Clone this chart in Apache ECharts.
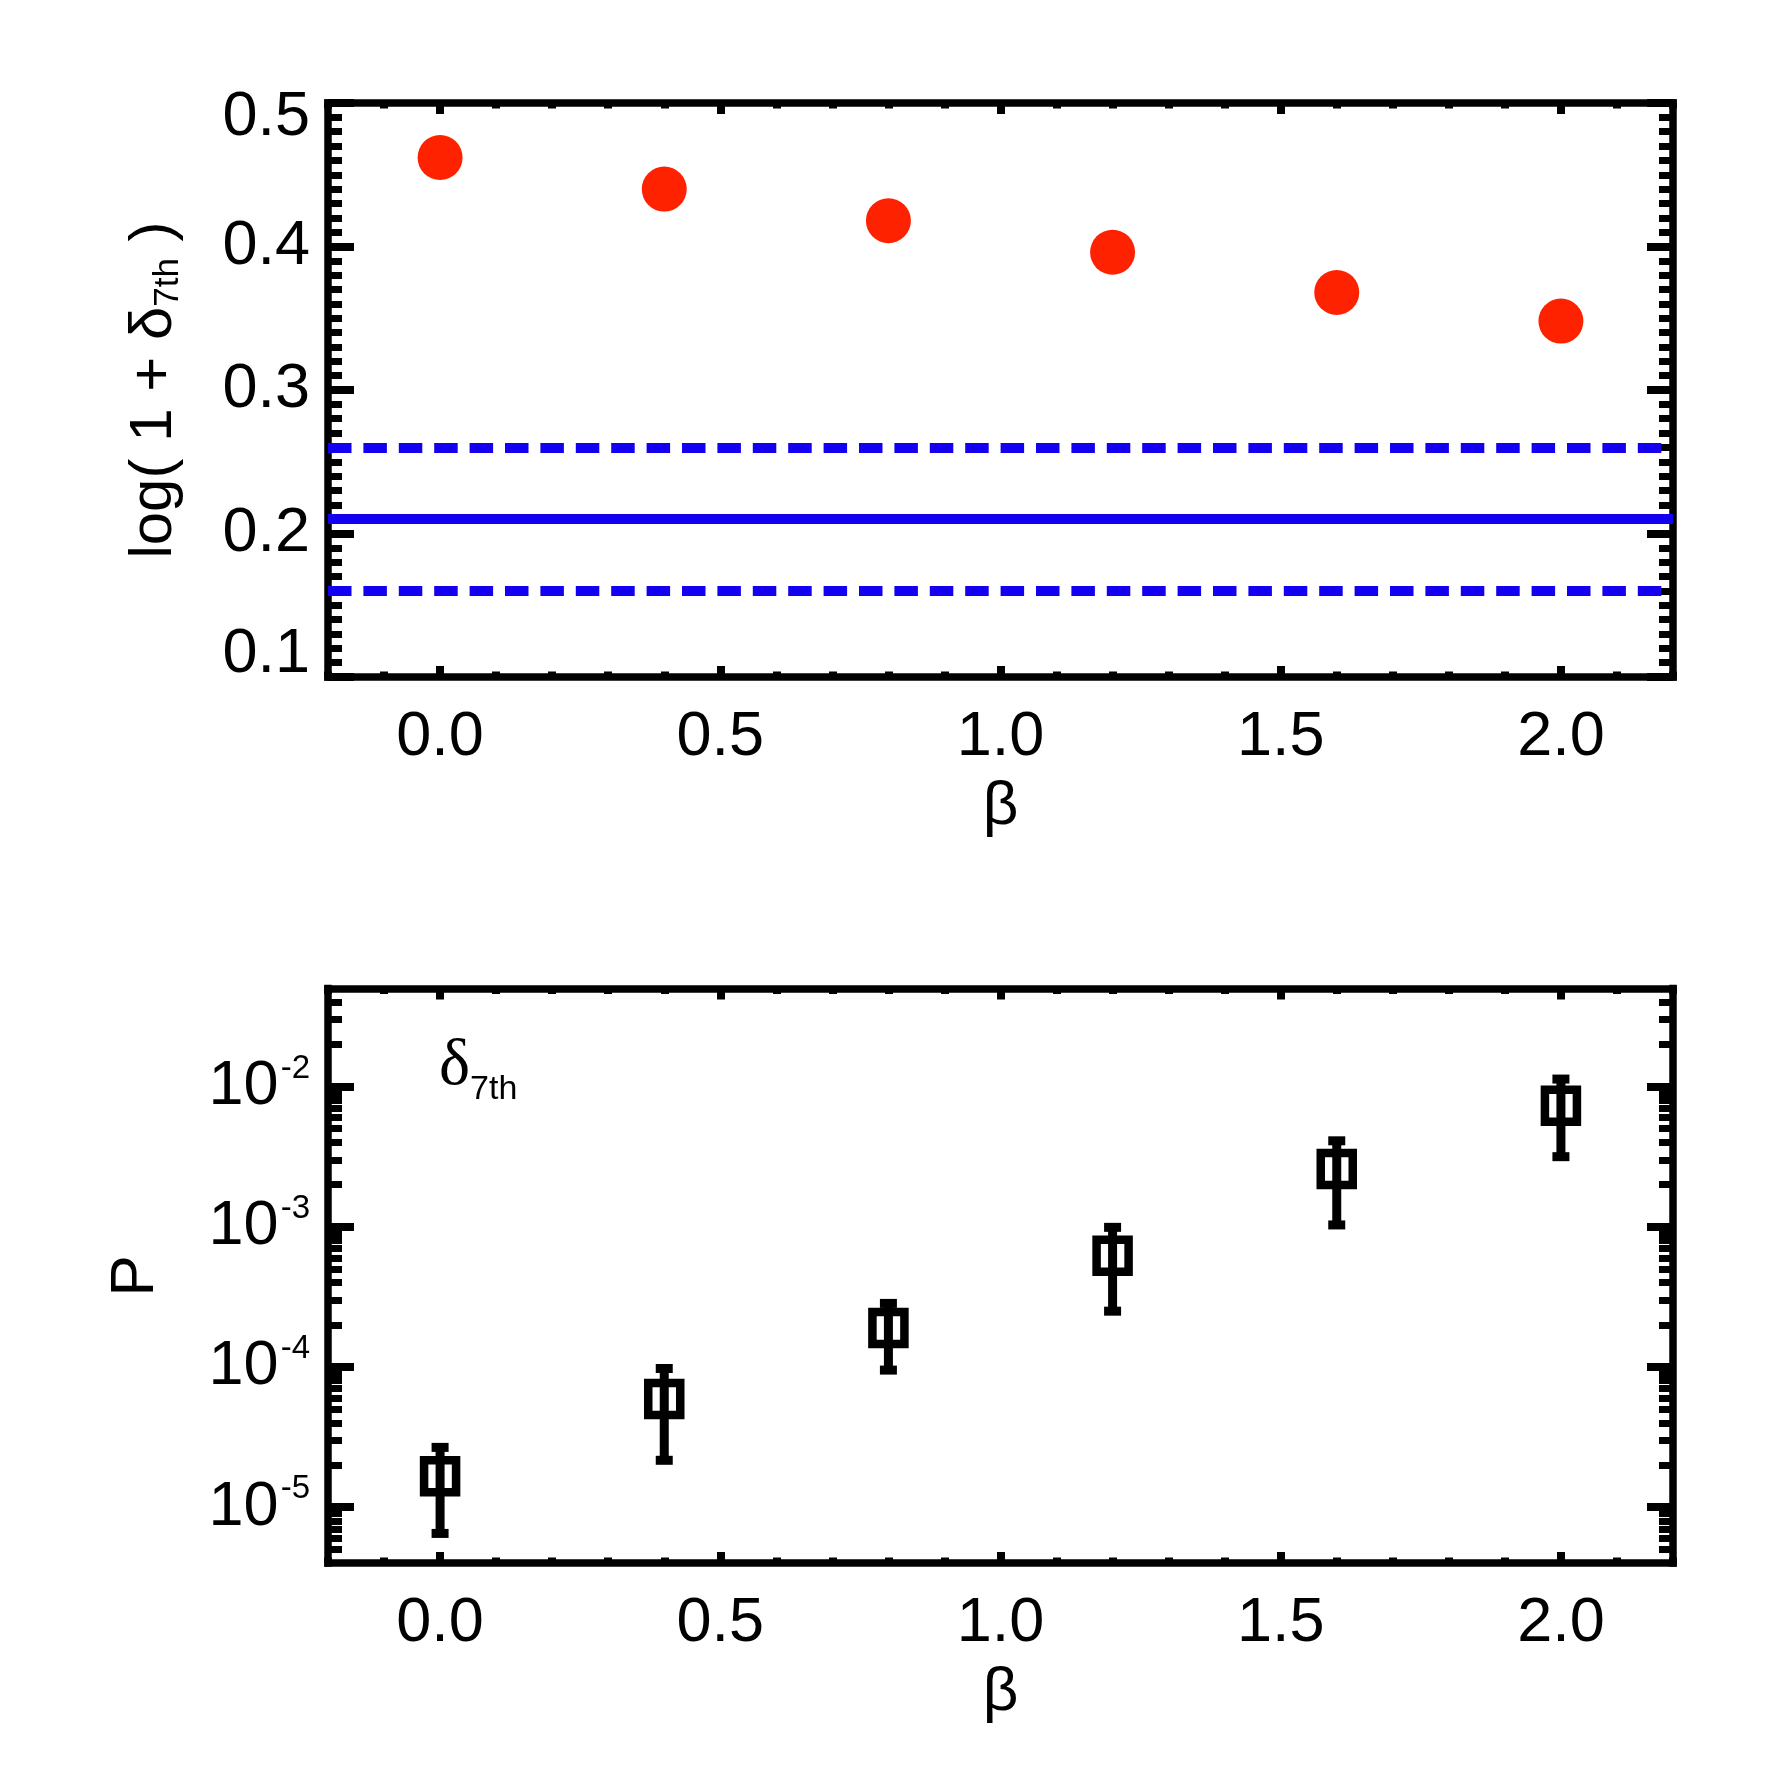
<!DOCTYPE html>
<html><head><meta charset="utf-8">
<script src="https://cdn.jsdelivr.net/npm/echarts@6/dist/echarts.min.js"></script>
<style>html,body{margin:0;padding:0;background:#fff}#c{width:1771px;height:1771px}</style>
</head><body><div id="c"></div>
<script>
// ---- data ----
const betaValues = [0.0, 0.4, 0.8, 1.2, 1.6, 2.0];
const logDelta = [0.462, 0.440, 0.418, 0.396, 0.368, 0.348];
const refMean = 0.2065;
const refUpper = 0.2575;
const refLower = 0.158;
const probValues = [1.66e-5, 5.9e-5, 1.9e-4, 6.2e-4, 2.58e-3, 7.3e-3];
const probUpper = [2.67e-5, 9.75e-5, 2.84e-4, 9.9e-4, 4.1e-3, 1.13e-2];
const probLower = [6.5e-6, 2.16e-5, 9.5e-5, 2.5e-4, 1.03e-3, 3.16e-3];
const xTickLabels = [0.0, 0.5, 1.0, 1.5, 2.0];
const topYTicks = [0.1, 0.2, 0.3, 0.4, 0.5];
const logTicks = [1e-5, 1e-4, 1e-3, 1e-2];
const logMinorMultipliers = [2, 3, 4, 5, 6, 7, 8, 9];
const logDecades = [1e-6, 1e-5, 1e-4, 1e-3, 1e-2];

const FONT = "'Liberation Sans', Arial, Helvetica, sans-serif";
const SERIF = "'Liberation Serif', 'Times New Roman', serif";
const BLACK = '#000';
const BLUE = '#1400f0';
const RED = '#ff2200';
const X_MIN = -0.2, X_MAX = 2.2;
const LOG_MIN = 4e-6, LOG_MAX = 0.05;
const LABEL_SIZE = 63;

const logMinorTicks = [];
logDecades.forEach(d => logMinorMultipliers.forEach(m => {
  const v = d * m;
  if (v > LOG_MIN && v < LOG_MAX) logMinorTicks.push(v);
}));

const axisLineStyle = {color: BLACK, width: 7.5, cap: 'square'};

function xMajor(gridIndex, position, withLabel) {
  return {
    type: 'value', gridIndex, position, min: X_MIN, max: X_MAX,
    axisLine: {show: true, onZero: false, lineStyle: axisLineStyle},
    axisTick: {show: true, inside: true, length: 11, customValues: xTickLabels, lineStyle: {color: BLACK, width: 8}},
    axisLabel: {show: withLabel, customValues: xTickLabels, formatter: v => v.toFixed(1),
      margin: 29, color: BLACK, fontSize: LABEL_SIZE, fontFamily: FONT},
    splitLine: {show: false}, minorTick: {show: false},
    name: withLabel ? 'β' : '', nameLocation: 'middle', nameGap: 99,
    nameTextStyle: {color: BLACK, fontSize: 62, fontFamily: FONT}
  };
}
function xMinor(gridIndex, position) {
  return {
    type: 'value', gridIndex, position, min: X_MIN, max: X_MAX, interval: 0.1,
    axisLine: {show: false, onZero: false},
    axisTick: {show: true, inside: true, length: 5.5, lineStyle: {color: BLACK, width: 8}},
    axisLabel: {show: false}, splitLine: {show: false}
  };
}
function yTop(position, withLabel) {
  return {
    type: 'value', gridIndex: 0, position, min: 0.1, max: 0.5, interval: 0.1,
    axisLine: {show: true, onZero: false, lineStyle: axisLineStyle},
    axisTick: {show: true, inside: true, length: 26, lineStyle: {color: BLACK, width: 8}},
    minorTick: {show: true, splitNumber: 10, length: 14, lineStyle: {color: BLACK, width: 7}},
    splitLine: {show: false}, minorSplitLine: {show: false},
    axisLabel: {
      show: withLabel, margin: 18, color: BLACK, fontSize: LABEL_SIZE, fontFamily: FONT,
      formatter: v => {
        const s = v.toFixed(1);
        if (s === '0.5') return '{t|' + s + '}';
        if (s === '0.1') return '{b|' + s + '}';
        return '{n|' + s + '}';
      },
      rich: {
        n: {fontSize: LABEL_SIZE, fontFamily: FONT, color: BLACK},
        t: {fontSize: LABEL_SIZE, fontFamily: FONT, color: BLACK, padding: [29, 0, 0, 0]},
        b: {fontSize: LABEL_SIZE, fontFamily: FONT, color: BLACK, padding: [0, 0, 44, 0]}
      }
    },
    name: withLabel ? '{a|log( 1 + δ}{s|7th}{a| )}' : '',
    nameLocation: 'middle', nameRotate: 90, nameGap: 142,
    nameTextStyle: {
      color: BLACK, fontSize: 60, fontFamily: FONT,
      rich: {
        a: {fontSize: 60, fontFamily: FONT, color: BLACK},
        s: {fontSize: 35, fontFamily: FONT, color: BLACK, padding: [28, 0, 0, 0]}
      }
    }
  };
}
function yLogMajor(position, withLabel) {
  return {
    type: 'log', logBase: 10, gridIndex: 1, position, min: LOG_MIN, max: LOG_MAX,
    axisLine: {show: true, onZero: false, lineStyle: axisLineStyle},
    axisTick: {show: true, inside: true, length: 26, customValues: logTicks, lineStyle: {color: BLACK, width: 8}},
    minorTick: {show: false}, splitLine: {show: false},
    axisLabel: {
      show: withLabel, customValues: logTicks, margin: 18, color: BLACK, fontSize: LABEL_SIZE, fontFamily: FONT,
      formatter: v => '{b|10}{s|' + Math.round(Math.log10(v)) + '}',
      rich: {
        b: {fontSize: LABEL_SIZE, fontFamily: FONT, color: BLACK},
        s: {fontSize: 33, fontFamily: FONT, color: BLACK, padding: [0, 0, 36, 2]}
      }
    },
    name: withLabel ? 'P' : '', nameLocation: 'middle', nameRotate: 90, nameGap: 161,
    nameTextStyle: {color: BLACK, fontSize: 62, fontFamily: FONT}
  };
}
function yLogMinor(position) {
  return {
    type: 'log', logBase: 10, gridIndex: 1, position, min: LOG_MIN, max: LOG_MAX,
    axisLine: {show: false, onZero: false},
    axisTick: {show: true, inside: true, length: 14, customValues: logMinorTicks, lineStyle: {color: BLACK, width: 7}},
    axisLabel: {show: false}, splitLine: {show: false}
  };
}

const dashed = [23.5, 11.9];

const option = {
  animation: false,
  backgroundColor: '#fff',
  grid: [
    {left: 328, top: 103, width: 1345, height: 574, outerBoundsMode: 'none', containLabel: false},
    {left: 328, top: 988.5, width: 1345, height: 574.5, outerBoundsMode: 'none', containLabel: false}
  ],
  xAxis: [
    xMajor(0, 'bottom', true), xMajor(0, 'top', false), xMinor(0, 'bottom'), xMinor(0, 'top'),
    xMajor(1, 'bottom', true), xMajor(1, 'top', false), xMinor(1, 'bottom'), xMinor(1, 'top')
  ],
  yAxis: [
    yTop('left', true), yTop('right', false),
    yLogMajor('left', true), yLogMajor('right', false), yLogMinor('left'), yLogMinor('right')
  ],
  graphic: [{
    type: 'text', left: 439, top: 1034,
    style: {
      text: '{d|δ}{s|7th}',
      rich: {
        d: {fontSize: 66, fontFamily: SERIF, fill: BLACK},
        s: {fontSize: 34, fontFamily: FONT, fill: BLACK, padding: [46, 0, 0, 0]}
      }
    }
  }],
  series: [
    {
      type: 'scatter', xAxisIndex: 0, yAxisIndex: 0,
      data: betaValues.map((b, i) => [b, logDelta[i]]),
      symbol: 'circle', symbolSize: 45,
      itemStyle: {color: RED, opacity: 1},
      emphasis: {disabled: true},
      markLine: {
        silent: true, symbol: ['none', 'none'], label: {show: false},
        lineStyle: {color: BLUE, width: 10, opacity: 1},
        emphasis: {disabled: true},
        data: [
          {yAxis: refUpper, lineStyle: {type: dashed, color: BLUE, width: 10}},
          {yAxis: refMean, lineStyle: {type: 'solid', color: BLUE, width: 10}},
          {yAxis: refLower, lineStyle: {type: dashed, color: BLUE, width: 10}}
        ]
      }
    },
    {
      type: 'custom', xAxisIndex: 4, yAxisIndex: 2,
      data: betaValues.map((b, i) => [b, probLower[i], probUpper[i]]),
      encode: {x: 0, y: [1, 2]},
      renderItem: (params, api) => {
        const x = api.value(0);
        const lo = api.coord([x, api.value(1)]);
        const hi = api.coord([x, api.value(2)]);
        const cap = 8.5;
        const st = {stroke: BLACK, lineWidth: 9};
        return {type: 'group', children: [
          {type: 'line', shape: {x1: lo[0], y1: lo[1], x2: hi[0], y2: hi[1]}, style: st},
          {type: 'line', shape: {x1: hi[0] - cap, y1: hi[1], x2: hi[0] + cap, y2: hi[1]}, style: st},
          {type: 'line', shape: {x1: lo[0] - cap, y1: lo[1], x2: lo[0] + cap, y2: lo[1]}, style: st}
        ]};
      }
    },
    {
      type: 'scatter', xAxisIndex: 4, yAxisIndex: 2,
      data: betaValues.map((b, i) => [b, probValues[i]]),
      symbol: 'rect', symbolSize: 32,
      itemStyle: {color: 'rgba(0,0,0,0)', borderColor: BLACK, borderWidth: 8.5, opacity: 1},
      emphasis: {disabled: true},
      z: 3
    }
  ]
};

const chart = echarts.init(document.getElementById('c'), null, {renderer: 'canvas'});
chart.setOption(option);
</script>
</body></html>
